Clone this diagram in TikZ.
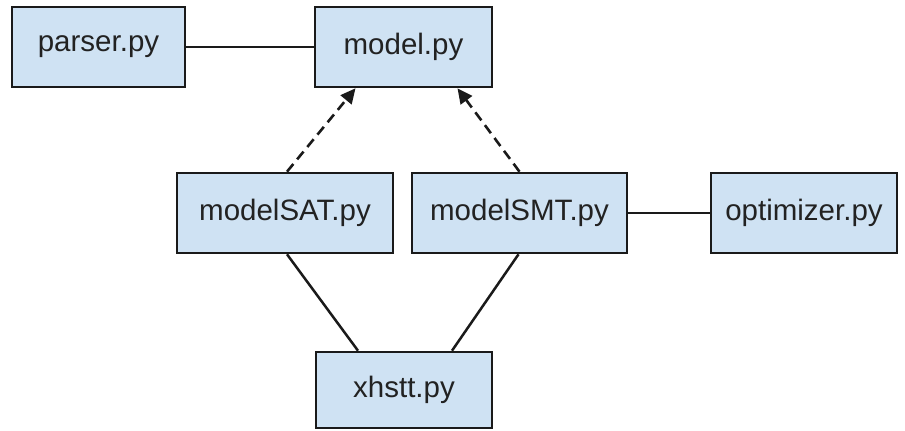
\documentclass[tikz,border=0pt]{standalone}
\usepackage{fontspec}
\setmainfont{Liberation Sans}
\usetikzlibrary{arrows.meta}
\definecolor{boxfill}{HTML}{CFE2F3}
\definecolor{boxline}{HTML}{1A1A1A}
\definecolor{txt}{HTML}{222222}
\tikzset{
  file/.style={draw=boxline, fill=boxfill, line width=2.6pt, rectangle,
    inner sep=0pt, text=txt, font=\fontsize{29.5}{34}\selectfont},
  link/.style={draw=boxline, line width=2.5pt},
  depends/.style={draw=boxline, line width=2.6pt, dash pattern=on 10pt off 6pt,
    -{Triangle[length=15pt,width=14pt]}}
}
\begin{document}
\begin{tikzpicture}[x=1pt,y=-1pt]
  \useasboundingbox (0,0) rectangle (905,431);
  \node[file, minimum width=173pt, minimum height=80pt] (parser) at (98.5,47) {parser.py};
  \node[file, minimum width=177pt, minimum height=80pt] (model) at (403.5,47) {model.py};
  \node[file, minimum width=216pt, minimum height=80pt] (sat) at (285,213) {modelSAT.py};
  \node[file, minimum width=215pt, minimum height=80pt] (smt) at (519.5,213) {modelSMT.py};
  \node[file, minimum width=186pt, minimum height=80pt] (opt) at (804,213) {optimizer.py};
  \node[file, minimum width=176pt, minimum height=76pt] (xh) at (404,390) {xhstt.py};

  \draw[link] (parser) -- (model);
  \draw[link] (smt) -- (opt);
  \draw[depends] ([xshift=2pt]sat.north) -- ([xshift=-48pt]model.south);
  \draw[depends] (smt.north) -- ([xshift=54pt]model.south);
  \draw[link] ([xshift=2pt]sat.south) -- ([xshift=-46pt]xh.north);
  \draw[link] ([xshift=-1pt]smt.south) -- ([xshift=48pt]xh.north);
\end{tikzpicture}
\end{document}
